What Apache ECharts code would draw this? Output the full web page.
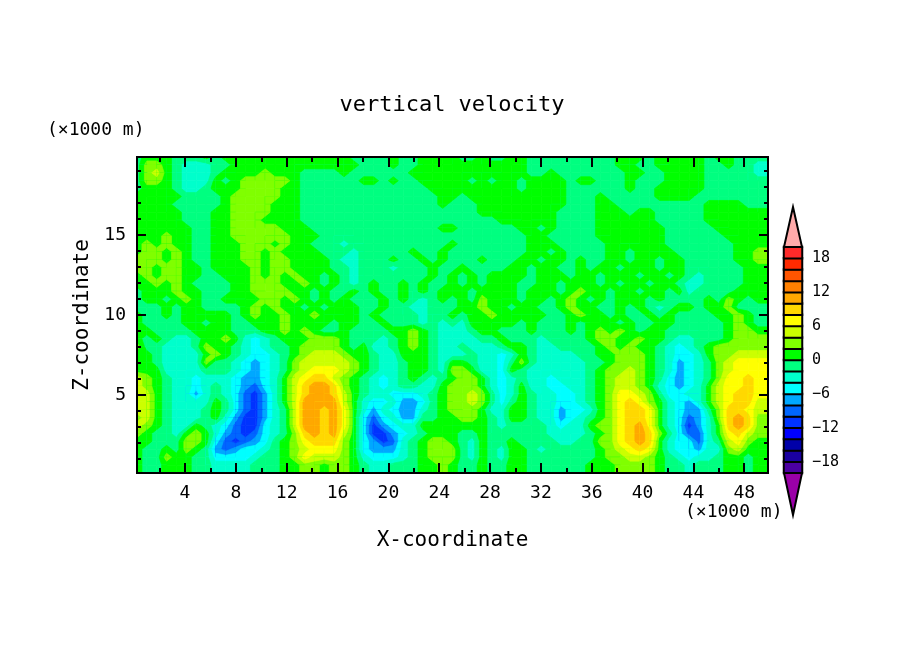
<!DOCTYPE html>
<html>
<head>
<meta charset="utf-8">
<title>vertical velocity</title>
<script src="https://cdn.jsdelivr.net/npm/echarts@6/dist/echarts.min.js"></script>
<style>
html, body { margin: 0; padding: 0; background: #fff; }
#main { width: 904px; height: 654px; }
</style>
</head>
<body>
<div id="main"></div>
<script>
// vertical velocity, read off the picture as the middle of each 2-wide band
// one array per height, top of the plot first, 64 cells left to right
var r00 = [-1,1,1,1,-1,-1,-1,1, -1,1,1,1,1,1,1,1, 1,1,1,1,1,1,-1,-1, -1,-1,1,-1,-1,1,1,1, 1,-1,-1,1,-1,-1,1,1, -1,-1,-1,-1,-1,-1,-1,-1, -1,1,1,1,-1,1,1,1, 1,1,-1,1,1,-1,-1,-1];
var r01 = [-1,3,3,1,-1,-3,-3,-3, -1,-1,1,1,1,1,1,1, 1,1,1,1,1,1,1,-1, -1,-1,1,-1,-1,1,1,1, 1,1,1,1,1,1,1,1, -1,-1,-1,-1,-1,-1,-1,-1, -1,1,1,-1,-1,1,1,1, 1,1,-1,-1,1,-1,-1,-3];
var r02 = [-1,3,5,1,-1,-3,-3,-3, -1,1,1,1,1,3,1,1, 1,-1,-1,-1,-1,1,-1,-1, -1,-1,-1,-1,1,1,1,1, 1,1,1,1,1,1,1,1, -1,-1,1,-1,-1,-1,-1,-1, -1,-1,1,1,-1,-1,1,1, 1,1,-1,-1,-1,-1,-1,-3];
var r03 = [-1,3,3,1,-1,-3,-3,-3, 1,-1,1,3,3,3,3,3, 1,-1,-1,-1,-1,-1,-1,1, 1,-1,1,-1,-1,1,1,1, 1,1,-1,1,-1,1,1,-1, 1,1,1,1,-1,1,1,-1, -1,-1,1,-1,-1,-1,1,1, 1,1,-1,-1,-1,-1,-1,-1];
var r04 = [-1,1,1,1,-1,-3,-3,-1, 1,1,1,3,3,3,3,1, 1,-1,-1,-1,-1,-1,-1,-1, -1,-1,-1,-1,-1,-1,1,1, 1,1,1,1,1,1,1,-1, 1,1,1,1,-1,-1,-1,-1, -1,-1,1,-1,-1,1,1,1, 1,1,-1,-1,-1,-1,-1,-1];
var r05 = [1,1,1,1,1,-1,-1,-1, -1,1,3,3,3,3,3,1, 1,-1,-1,-1,-1,-1,-1,-1, -1,-1,-1,-1,-1,-1,-1,1, 1,-1,1,1,1,1,1,1, 1,1,1,1,-1,-1,-1,1, -1,-1,-1,-1,-1,1,1,1, 1,-1,-1,-1,-1,-1,-1,-1];
var r06 = [1,1,1,1,-1,-1,-1,-1, -1,1,3,3,3,3,1,1, 1,-1,-1,-1,-1,-1,-1,-1, -1,-1,-1,-1,-1,-1,-1,1, -1,-1,-1,1,1,1,1,1, 1,1,1,1,-1,-1,-1,1, 1,-1,-1,-1,-1,-1,-1,-1, -1,-1,1,1,1,1,-1,-1];
var r07 = [1,1,1,1,1,-1,-1,-1, 1,1,3,3,3,3,1,1, 1,-1,-1,-1,-1,-1,-1,-1, -1,-1,-1,-1,-1,-1,-1,-1, -1,-1,-1,1,1,1,1,1, 1,1,1,-1,-1,-1,-1,1, 1,1,-1,1,1,-1,-1,-1, -1,-1,1,1,1,1,1,1];
var r08 = [1,1,1,1,1,-1,-1,-1, 1,1,3,3,3,1,1,1, 1,-1,-1,-1,-1,-1,-1,-1, -1,-1,-1,-1,-1,-1,-1,-1, -1,-1,-1,-1,-1,1,1,1, 1,1,1,-1,-1,-1,-1,1, 1,1,1,1,1,-1,-1,-1, -1,-1,1,1,1,1,1,1];
var r09 = [1,1,1,1,1,1,-1,-1, 1,1,3,3,3,3,3,1, 1,1,-1,-1,-1,-1,-1,-1, -1,-1,-1,-1,-1,-1,-1,1, 1,-1,-1,-1,-1,-1,-1,1, 1,-1,1,-1,-1,-1,-1,1, 1,1,1,1,1,1,-1,-1, -1,-1,-1,1,1,1,1,1];
var r10 = [1,1,1,3,1,1,-1,-1, 1,1,3,3,3,3,3,3, 1,1,1,-1,-1,-1,-1,-1, -1,-1,-1,-1,-1,-1,-1,-1, -1,-1,-1,-1,-1,-1,-1,-1, 1,1,-1,-1,-1,-1,-1,1, 1,1,1,1,1,1,-1,-1, -1,-1,-1,-1,1,1,1,1];
var r11 = [1,3,1,3,1,1,-1,-1, 1,1,1,3,3,3,1,3, 1,1,-1,-1,-1,-3,-1,-1, -1,-1,-1,-1,-1,-1,-1,-1, 1,-1,-1,-1,-1,-1,-1,-1, 1,1,1,-1,-1,-1,-1,-1, 1,1,1,1,1,1,-1,-1, -1,-1,-1,-1,-1,1,1,1];
var r12 = [1,3,3,1,3,1,-1,-1, 1,1,1,3,3,1,3,1, 1,1,1,-1,-1,-1,-3,-1, -1,-1,-1,-1,1,-1,-1,1, -1,-1,-1,-1,-1,-1,-1,-1, 1,1,-1,1,-1,-1,-1,-1, 1,1,-1,1,1,1,1,-1, -1,-1,-1,-1,-1,1,1,3];
var r13 = [3,3,3,1,3,1,-1,-1, 1,1,1,3,3,1,3,3, 1,1,1,1,-1,-3,-3,-1, -1,-1,1,-1,-1,1,-1,1, -1,-1,-1,1,-1,-1,-1,1, 1,-1,1,1,-1,1,-1,-1, 1,1,-1,1,1,-1,1,1, -1,-1,-1,-1,-1,1,1,3];
var r14 = [3,3,1,3,3,1,1,-1, 1,1,1,1,3,1,3,3, 1,1,1,1,-1,-1,-3,-1, -1,-1,-3,-1,-1,-1,1,-1, -1,1,-1,-1,-1,-1,1,1, -1,1,1,-1,-1,1,-1,1, 1,-1,1,1,1,-1,1,1, -1,-1,-1,-1,-1,-1,1,1];
var r15 = [1,3,1,3,3,1,1,-1, -1,1,1,1,3,1,3,1, 3,1,1,-1,1,-1,-3,-1, -1,-1,-1,-1,-1,-1,1,-1, 1,-1,1,-1,1,1,1,1, -1,1,1,1,-1,1,1,-1, 1,1,1,-1,1,1,-1,1, -1,-3,-1,-1,-1,-1,1,1];
var r16 = [1,1,3,1,3,1,-1,-1, -1,-1,1,1,3,3,3,1, 1,3,1,-1,1,-1,-3,-1, 1,-1,-1,1,-1,1,-1,-1, 1,-1,1,-1,1,1,1,-1, -1,1,1,-1,1,1,1,-1, 1,-1,1,1,-1,1,1,-1, -3,-3,-1,-1,-1,-1,1,1];
var r17 = [-1,1,1,1,3,1,1,-1, -1,-1,1,1,3,3,3,3, 1,1,-1,1,-1,-1,1,-1, 1,-1,-1,1,-1,1,-1,1, 1,1,-1,1,1,1,1,-1, 1,1,1,-1,1,3,1,1, -1,1,1,-1,1,1,-1,1, -3,-1,-1,-1,-1,1,1,1];
var r18 = [-1,1,1,-1,1,3,1,-1, -1,1,1,1,1,3,3,1, 3,1,-1,1,-1,1,-1,-1, -1,1,-1,1,-1,-3,-1,1, -1,1,-1,3,1,1,1,-1, 1,1,-1,1,3,1,-1,1, -1,1,1,1,-1,1,-1,-1, -1,-1,1,-1,3,1,-1,1];
var r19 = [-1,-1,-1,1,-1,1,1,-1, -1,-1,-1,1,3,1,3,1, 1,-1,1,-1,1,1,1,-1, -1,1,-1,-1,-3,-3,-1,-1, -1,1,1,3,1,1,-1,1, 1,-1,-1,1,3,1,1,-1, -1,1,-1,1,-1,-3,-1,1, 1,-1,1,1,3,-1,-1,-1];
var r20 = [1,-1,-1,1,-1,1,1,1, 1,1,-1,1,3,1,1,3, 1,1,3,1,1,1,1,-1, 1,-1,-1,-1,-1,-3,-1,-1, 1,-1,1,1,3,1,1,1, 1,1,-1,-1,1,3,1,1, -1,1,-1,-1,1,-1,1,-1, -1,-1,-1,1,1,3,1,-1];
var r21 = [1,-1,-1,-1,-1,1,1,-1, 1,1,-1,-1,1,1,1,3, 1,1,1,1,-1,1,1,-1, -1,1,-1,-1,-1,-3,-1,-3, -1,-3,1,1,1,1,1,-1, 1,-1,-1,-1,1,-1,1,1, 1,-1,1,-1,-1,1,1,-1, -1,-1,-1,-1,1,3,1,-1];
var r22 = [1,1,-1,-1,-1,-1,1,1, 1,1,-1,-1,-1,1,1,3, 1,3,1,-1,-1,1,-1,-1, -1,-1,1,1,3,1,-1,-3, -3,-3,-1,1,1,-1,-1,-1, 1,-1,-1,-1,1,-1,1,3, 1,3,1,-1,1,1,-1,-1, -1,-1,-1,-1,1,3,3,1];
var r23 = [1,-1,1,-1,-3,-3,-1,1, 1,3,1,-3,-5,-3,-1,1, 1,1,3,3,3,1,-1,-1, -1,-3,-1,1,3,1,-1,-3, -3,-3,-3,-1,-1,1,-1,-1, -1,-3,-1,-1,-1,-1,1,3, 3,1,1,3,1,1,-1,-3, -3,-1,-1,-1,1,3,3,3];
var r24 = [3,-1,-1,-3,-3,-3,-1,3, 1,1,-1,-3,-5,-3,-1,-1, 1,3,3,3,3,1,-1,1, -3,-3,-1,1,3,1,-1,-3, -3,-1,-3,-3,-3,-1,1,1, -1,-3,-3,-1,-1,-1,-1,1, 3,1,3,1,1,-1,-3,-5, -3,-1,1,3,3,3,3,3];
var r25 = [1,1,-1,-3,-3,-3,-3,1, 3,1,-1,-3,-5,-5,-3,-1, 1,3,5,5,5,3,1,1, -1,-3,-3,1,1,1,-1,-3, -3,-3,-1,-3,-3,-5,-3,1, -1,-3,-3,-3,-3,-1,-1,1, 1,3,3,3,1,-1,-3,-5, -5,-3,1,3,3,5,5,5];
var r26 = [1,1,-1,-3,-3,-3,-3,3, -1,-1,-3,-5,-7,-5,-3,-1, 3,5,5,5,5,5,3,1, -1,-3,-3,-1,1,1,-1,-3, 1,1,-1,-3,-3,-5,-1,3, -1,-3,-3,-3,-3,-3,-1,-1, 1,3,3,3,1,-1,-3,-7, -5,-3,-1,3,5,7,7,7];
var r27 = [1,1,1,-3,-3,-3,-3,-1, -1,-1,-3,-5,-7,-5,-3,-1, 3,5,7,7,7,5,3,1, -1,-3,-3,-1,1,1,-1,-3, 3,3,1,-3,-3,-5,1,-1, -3,-3,-3,-3,-3,-3,-1,1, 3,3,5,3,1,-1,-3,-7, -5,-3,-1,3,5,7,7,7];
var r28 = [5,3,1,-1,-3,-3,-5,-3, -3,-3,-5,-7,-7,-5,-3,1, 5,7,9,9,5,3,1,-1, -3,-5,-3,-1,1,-1,-3,-1, 1,3,3,1,-3,-5,-3,-1, -3,-3,-5,-3,-3,-3,-1,1, 3,5,5,3,1,-1,-5,-7, -5,-3,-1,3,7,7,9,7];
var r29 = [5,3,1,-1,-3,-3,-5,-3, -1,-3,-5,-7,-9,-5,-3,1, 5,9,11,11,9,3,1,-1, -3,-5,-3,-1,-1,-3,-3,1, 3,3,3,1,-3,-5,-3,1, -3,-3,-5,-5,-3,-3,-1,1, 3,5,5,3,1,-3,-5,-7, -5,-3,1,5,7,7,9,7];
var r30 = [5,5,1,-1,-3,-3,-7,-3, -1,-3,-5,-9,-11,-7,-3,1, 5,9,11,11,9,5,1,-1, -3,-3,-5,-5,-5,-3,-1,1, 3,3,5,3,-1,-5,-3,1, -1,-3,-3,-5,-5,-3,-1,1, 3,7,7,5,3,-1,-5,-5, -3,-3,1,5,7,9,9,7];
var r31 = [5,5,1,-1,-3,-3,-3,-3, 1,-1,-5,-9,-11,-7,-3,1, 5,11,11,11,11,5,1,-3, -5,-5,-3,-7,-7,-5,-1,1, 3,3,5,3,-1,-5,-1,1, -1,-3,-3,-5,-5,-3,-1,1, 3,7,9,7,3,1,-3,-5, -7,-3,1,5,7,9,9,5];
var r32 = [5,5,1,-1,-3,-3,-3,-1, 1,-1,-5,-9,-11,-7,-3,-1, 5,11,11,9,11,7,1,-3, -7,-3,-5,-7,-7,-3,-1,1, 3,3,3,1,-3,-3,1,1, -1,-3,-3,-7,-5,-5,-3,1, 3,7,9,9,7,1,-3,-5, -7,-7,-1,3,9,9,7,5];
var r33 = [3,5,1,-1,-3,-3,-3,-1, 1,-3,-7,-11,-11,-7,-3,-1, 5,11,11,9,11,7,1,-5, -9,-5,-3,-7,-7,-1,-1,1, 1,3,3,1,-1,-3,1,1, -1,-3,-3,-7,-5,-3,-1,1, 3,7,9,9,7,1,-3,-5, -9,-7,-3,3,9,11,9,3];
var r34 = [5,3,1,-1,-3,-3,1,-1, -3,-5,-9,-11,-11,-5,-3,-1, 5,11,11,9,11,7,1,-5, -11,-7,-5,-3,-3,1,1,1, 1,1,1,1,-1,-3,-1,-1, -1,-1,-3,-5,-3,-3,1,3, 3,7,9,11,7,1,-3,-5, -11,-7,-3,1,9,11,9,3];
var r35 = [3,1,-1,-1,-3,1,3,1, -3,-7,-9,-11,-9,-5,-3,-1, 3,9,11,9,11,5,1,-5, -11,-11,-7,-5,-3,-1,1,1, 1,-1,-1,1,-1,-1,-1,-1, -1,-1,-3,-3,-3,-3,-1,1, 3,7,9,11,9,3,-1,-5, -9,-9,-3,1,7,9,5,3];
var r36 = [1,1,-1,-1,-1,3,3,1, -5,-9,-11,-9,-7,-5,-1,1, 3,7,9,9,9,3,1,-5, -7,-11,-9,-3,-1,1,3,3, 1,-1,-3,1,-1,-1,1,-1, -1,-1,-1,-3,-3,-1,-1,3, 3,7,9,11,9,1,-3,-5, -5,-9,-3,-1,5,7,3,1];
var r37 = [1,-1,-1,1,-1,3,1,-1, -7,-9,-7,-5,-5,-3,-1,1, 3,5,7,7,7,3,1,-5, -7,-7,-7,-3,-1,1,3,3, 3,-1,-3,1,-1,-3,1,1, -1,-3,-1,-1,-1,-1,-1,1, 3,5,7,9,7,1,-3,-5, -5,-7,-3,-3,3,5,1,1];
var r38 = [1,-1,-1,3,1,1,-1,-1, -5,-5,-5,-5,-3,-1,-1,1, 3,7,5,5,5,3,1,-3, -5,-5,-5,-3,-1,1,3,3, 3,-1,-3,1,-1,-3,1,1, -1,-1,-1,-1,-1,-1,-1,1, 3,3,5,5,3,1,-1,-3, -5,-3,-3,-1,1,1,-1,1];
var r39 = [1,-1,-1,1,1,1,-1,-1, -3,-3,-3,-3,-1,-1,-1,1, 1,3,3,1,3,3,1,-1, -3,-3,-1,-1,-1,1,1,3, 1,-1,-1,1,-1,-1,1,1, -1,-1,-1,-1,-1,-1,1,1, 1,3,3,3,3,1,-1,-1, -3,-1,-1,-1,1,1,-1,1];
var rows = [r00,r01,r02,r03,r04,r05,r06,r07,r08,r09,r10,r11,r12,r13,r14,r15,r16,r17,r18,r19,
            r20,r21,r22,r23,r24,r25,r26,r27,r28,r29,r30,r31,r32,r33,r34,r35,r36,r37,r38,r39];

// colour bar: lower edge of each band and its colour
var bandLows = [-20,-18,-16,-14,-12,-10,-8,-6,-4,-2,0,2,4,6,8,10,12,14,16,18];
var bandColors = ['#4b00a0','#1a00a0','#0000a8','#0000ff','#0033ff','#0066ff','#00a8ff','#00ffff','#00ffcc','#00ff80',
                  '#00ff00','#80ff00','#ccff00','#ffff00','#ffd800','#ffa800','#ff8000','#ff5500','#ff2a00','#ff2a2a'];
var barLabels = [-18,-12,-6,0,6,12,18];

var xMajor = [4,8,12,16,20,24,28,32,36,40,44,48];
var xMinor = [2,6,10,14,18,22,26,30,34,38,42,46];
var yMajor = [5,10,15];
var yMinor = [1,2,3,4,6,7,8,9,11,12,13,14,16,17,18,19];

var labelFont = '"DejaVu Sans Mono"';

var dom = document.getElementById('main');
var myChart = echarts.init(dom, null, {renderer: 'canvas'});

var nCols = rows[0].length, nRows = rows.length;

// one item per grid square, its corners are read from rows when drawn
var squares = [];
rows.forEach(function (row, r) {
    row.forEach(function (v, c) { squares.push([c, r]); });
});

var barCells = bandLows.map(function (low, i) { return [0, i, low + 1]; });
var pieces = bandLows.map(function (low, i) {
    return {min: low, max: low + 2, color: bandColors[i]};
});

function valueAt(c, r) {
    return rows[Math.min(r, nRows - 1)][Math.min(c, nCols - 1)];
}

// part of a square where the value is at least level
function clipSquare(corners, level) {
    var out = [];
    corners.forEach(function (p, i) {
        var q = corners[(i + 1) % 4];
        if (p[2] >= level) out.push([p[0], p[1]]);
        if ((p[2] >= level) !== (q[2] >= level)) {
            var t = (level - p[2]) / (q[2] - p[2]);
            out.push([p[0] + (q[0] - p[0]) * t, p[1] + (q[1] - p[1]) * t]);
        }
    });
    return out;
}

// filled contours: each band is painted over the one below it
function renderSquare(params, api) {
    var c = api.value(0), r = api.value(1);
    var corners = [[c, r], [c + 1, r], [c + 1, r + 1], [c, r + 1]].map(function (n) {
        return [n[0], n[1], valueAt(n[0], n[1])];
    });
    var lo = Math.min(corners[0][2], corners[1][2], corners[2][2], corners[3][2]);
    var children = [];
    bandLows.forEach(function (low, i) {
        if (low + 2 <= lo) return;
        var part = clipSquare(corners, low);
        if (part.length < 3) return;
        children.push({
            type: 'polygon',
            shape: {points: part.map(function (p) { return api.coord(p); })},
            style: {fill: bandColors[i], stroke: bandColors[i], lineWidth: 0.7}
        });
    });
    return {type: 'group', children: children};
}

function tickAxis(pos, min, max, values, len, labels) {
    return {
        type: 'value', position: pos, min: min, max: max, z: 5,
        axisLine: {show: true, onZero: false, lineStyle: {color: '#000', width: 2}},
        axisTick: {show: true, inside: true, length: len, customValues: values, lineStyle: {color: '#000', width: 2}},
        axisLabel: {show: !!labels, customValues: values, color: '#000', fontFamily: labelFont, fontSize: 18, margin: 11},
        splitLine: {show: false}
    };
}

var X0 = 0.22, X1 = 49.87, Z0 = 0.125, Z1 = 19.875;

var xBottom = tickAxis('bottom', X0, X1, xMajor, 10, true);
xBottom.name = 'X-coordinate';
xBottom.nameLocation = 'middle';
xBottom.nameGap = 57;
xBottom.nameTextStyle = {color: '#000', fontFamily: labelFont, fontSize: 21};

var yLeft = tickAxis('left', Z0, Z1, yMajor, 9, true);
yLeft.name = 'Z-coordinate';
yLeft.nameLocation = 'middle';
yLeft.nameGap = 42;
yLeft.nameTextStyle = {color: '#000', fontFamily: labelFont, fontSize: 21};

option = {
    animation: false,
    backgroundColor: '#fff',
    title: {
        text: 'vertical velocity',
        left: 447, top: 89, textAlign: 'center',
        textStyle: {color: '#000', fontFamily: labelFont, fontSize: 22, fontWeight: 'normal'}
    },
    grid: [
        {left: 137, top: 157, width: 631, height: 316},
        {left: 784, top: 247, width: 18, height: 226}
    ],
    xAxis: [
        {type: 'value', min: 0, max: nCols, show: false, gridIndex: 0},
        xBottom,
        tickAxis('top', X0, X1, xMajor, 10, false),
        tickAxis('bottom', X0, X1, xMinor, 5, false),
        tickAxis('top', X0, X1, xMinor, 5, false),
        {type: 'category', data: ['bar'], show: false, gridIndex: 1}
    ],
    yAxis: [
        {type: 'value', min: 0, max: nRows, inverse: true, show: false, gridIndex: 0},
        yLeft,
        tickAxis('right', Z0, Z1, yMajor, 9, false),
        tickAxis('left', Z0, Z1, yMinor, 4, false),
        tickAxis('right', Z0, Z1, yMinor, 4, false),
        {type: 'category', data: bandLows, show: false, gridIndex: 1},
        {
            type: 'value', gridIndex: 1, position: 'right', min: -20, max: 20, z: 5,
            axisLine: {show: false}, axisTick: {show: false}, splitLine: {show: false},
            axisLabel: {
                customValues: barLabels, color: '#000', fontFamily: labelFont, fontSize: 15, margin: 10,
                formatter: function (v) { return String(v).replace('-', '\u2212'); }
            }
        }
    ],
    visualMap: {show: false, type: 'piecewise', dimension: 2, seriesIndex: 1, pieces: pieces},
    series: [
        {type: 'custom', xAxisIndex: 0, yAxisIndex: 0, data: squares, clip: true, silent: true, progressive: 0,
         encode: {x: 0, y: 1}, renderItem: renderSquare},
        {type: 'heatmap', xAxisIndex: 5, yAxisIndex: 5, data: barCells, progressive: 0, itemStyle: {borderColor: '#000', borderWidth: 2}}
    ],
    graphic: [
        {type: 'polygon', z: 10, shape: {points: [[793, 207], [802, 247], [784, 247]]}, style: {fill: '#ffaaaa', stroke: '#000', lineWidth: 2}},
        {type: 'polygon', z: 10, shape: {points: [[793, 515], [802, 473], [784, 473]]}, style: {fill: '#9a00a8', stroke: '#000', lineWidth: 2}},
        {type: 'text', z: 10, left: 47, top: 121, style: {text: '(\u00d71000 m)', fill: '#000', font: '18px ' + labelFont}},
        {type: 'text', z: 10, left: 685, top: 503, style: {text: '(\u00d71000 m)', fill: '#000', font: '18px ' + labelFont}}
    ]
};

if (option && typeof option === 'object') {
    myChart.setOption(option, true);
}
</script>
</body>
</html>
